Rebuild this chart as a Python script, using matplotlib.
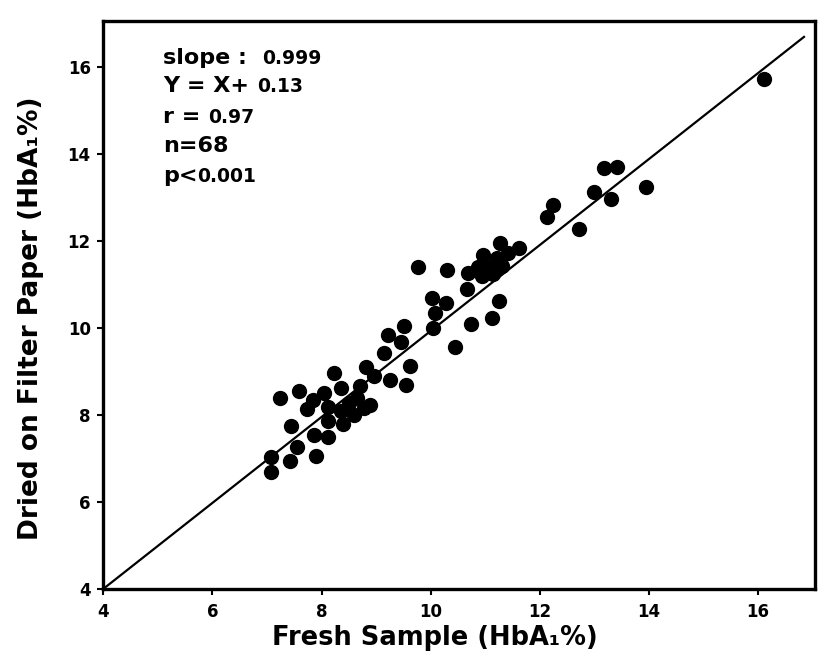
import numpy as np
import matplotlib
matplotlib.use("Agg")
import matplotlib.pyplot as plt

# values
fresh = [16.11, 13.17, 13.42, 13.94, 12.99, 13.30, 12.24, 12.14, 12.71, 11.27,
         11.62, 10.96, 11.41, 11.21, 10.87, 11.05, 11.31, 10.94, 11.15, 11.25,
         9.77, 10.30, 10.69, 10.66, 10.02, 10.29, 10.08, 9.51, 10.04, 9.22,
         9.46, 10.74, 11.12, 9.14, 10.45, 9.63, 8.23, 8.81, 8.96, 9.25,
         9.55, 8.71, 8.36, 7.59, 7.24, 8.05, 7.85, 7.74, 8.11, 8.35,
         8.51, 8.65, 8.77, 8.60, 8.88, 8.11, 8.39, 7.45, 7.86, 8.12,
         7.55, 7.08, 7.42, 7.90, 7.08]
dried = [15.72, 13.69, 13.71, 13.24, 13.14, 12.96, 12.83, 12.55, 12.27, 11.97,
         11.84, 11.68, 11.72, 11.62, 11.40, 11.40, 11.44, 11.19, 11.25, 10.63,
         11.40, 11.33, 11.28, 10.91, 10.70, 10.57, 10.35, 10.06, 10.01, 9.84,
         9.69, 10.10, 10.23, 9.42, 9.56, 9.14, 8.97, 9.11, 8.91, 8.80,
         8.70, 8.67, 8.63, 8.56, 8.40, 8.50, 8.34, 8.15, 8.18, 8.10,
         8.27, 8.39, 8.17, 8.00, 8.24, 7.86, 7.80, 7.74, 7.55, 7.49,
         7.27, 7.04, 6.94, 7.07, 6.70]

fit_x = [4.0, 16.84]
fit_y = [4.0, 16.70]

ticks = [4, 6, 8, 10, 12, 14, 16]

stats = [("slope :  ", "0.999"),
         ("Y = X+ ", "0.13"),
         ("r = ", "0.97"),
         ("n=68", ""),
         ("p<", "0.001")]

plt.rcParams['font.family'] = ['DejaVu Sans']

fig = plt.figure(figsize=(8.19, 6.64), dpi=100)
ax = fig.add_axes([0.126, 0.113, 0.869, 0.855])

ax.plot(fit_x, fit_y, color='black', lw=1.6)
ax.plot(fresh, dried, 'o', color='black', ms=10, mec='black')

ax.set_xlim(4, 17.04)
ax.set_ylim(4, 17.06)
ax.set_xticks(ticks)
ax.set_yticks(ticks)
ax.tick_params(direction='out', length=4, width=1.5, labelsize=12)
for lab in ax.get_xticklabels() + ax.get_yticklabels():
    lab.set_fontweight('bold')
ax.tick_params(axis='x', pad=6)
ax.tick_params(axis='y', pad=5)
for s in ax.spines.values():
    s.set_linewidth(2.4)

ax.set_xlabel("Fresh Sample (HbA\u2081%)", fontsize=18.5, fontweight='bold')
ax.set_ylabel("Dried on Filter Paper (HbA\u2081%)", fontsize=19, fontweight='bold')
ax.xaxis.set_label_coords(0.466, -0.063)
ax.yaxis.set_label_coords(-0.083, 0.477)

# stats block, big label + smaller number
ys = [0.903, 0.861, 0.815, 0.771, 0.726]
for (big, small), yy in zip(stats, ys):
    t = fig.text(0.199, yy, big, fontsize=16, fontweight='bold', va='baseline')
    if small:
        fig.canvas.draw()
        bb = t.get_window_extent()
        x1 = bb.x1 / fig.bbox.width
        fig.text(x1, yy, small, fontsize=13.5, fontweight='bold', va='baseline')

fig.savefig("out.png", dpi=100)
